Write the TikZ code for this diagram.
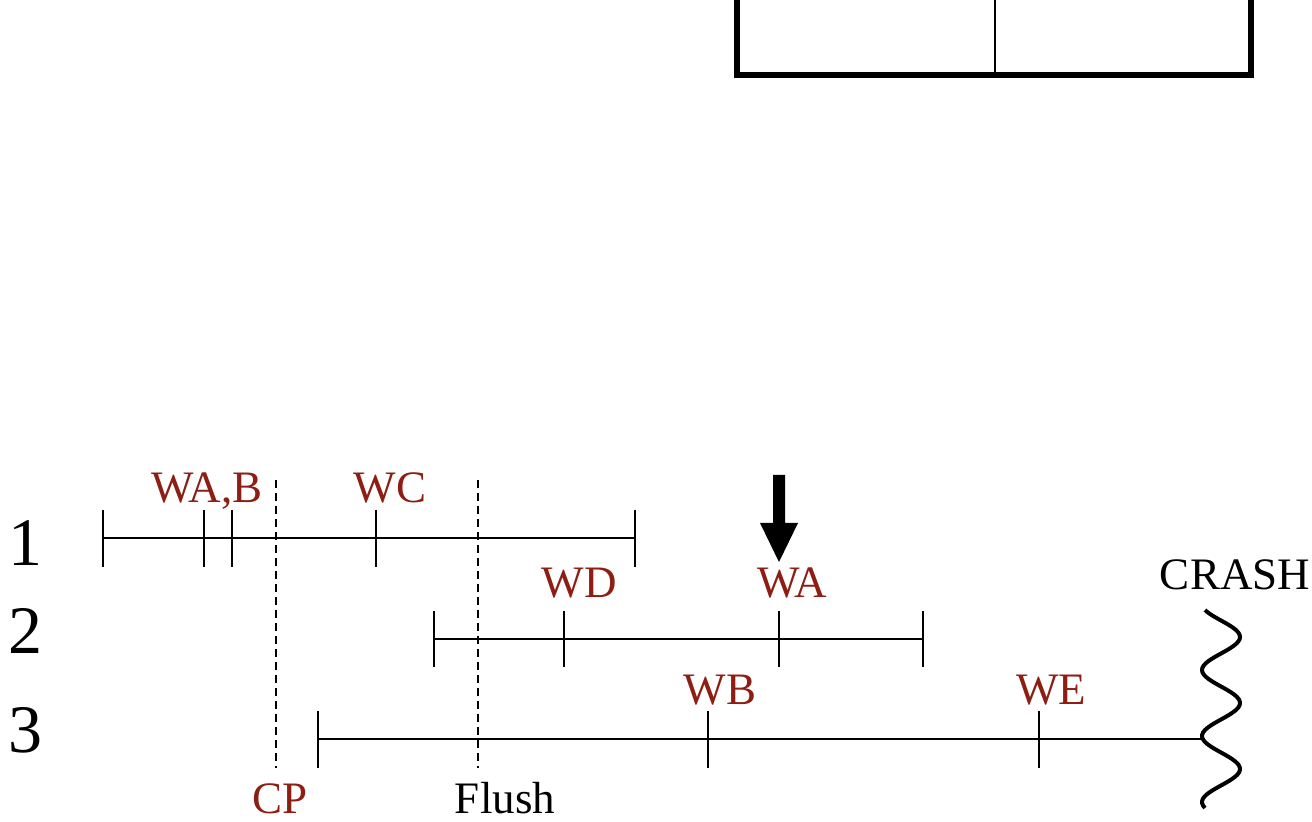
\documentclass[tikz,border=0pt]{standalone}
\usepackage{fontspec}
\setmainfont{Liberation Serif}
\definecolor{wred}{RGB}{140,30,20}
\tikzset{
  tline/.style={line width=1pt},
  cutline/.style={line width=1pt,dash pattern=on 4pt off 2.5pt},
  wlabel/.style={text=wred,font=\fontsize{22.5}{22.5}\selectfont,anchor=base,inner sep=0pt},
  blabel/.style={font=\fontsize{22.5}{22.5}\selectfont,anchor=base,inner sep=0pt},
  rownum/.style={font=\fontsize{34}{34}\selectfont,anchor=base,inner sep=0pt},
}
\begin{document}
\begin{tikzpicture}[x=0.5pt,y=-0.5pt]
\useasboundingbox (0,0) rectangle (1312,822);

% box
\draw[line width=3pt,line join=miter] (737,0) -- (737,75) -- (1251,75) -- (1251,0);
\draw[line width=1pt] (995,0) -- (995,75);

% rows
\node[rownum] (r1) at (26,566) {1};
\node[rownum] (r2) at (26,654) {2};
\node[rownum] (r3) at (26,753) {3};

% timeline 1
\coordinate (l1s) at (103,538);
\coordinate (l1e) at (635,538);
\draw[tline] (l1s) -- (l1e);
\foreach \x in {103,204,232,376,635}
  \draw[tline] (\x,510) -- (\x,567);
\node[wlabel] (wab) at (207,503) {WA,B};
\node[wlabel] (wc) at (390,503) {WC};

% timeline 2
\coordinate (l2s) at (434,639);
\coordinate (l2e) at (923,639);
\draw[tline] (l2s) -- (l2e);
\foreach \x in {434,564,779,923}
  \draw[tline] (\x,611) -- (\x,667);
\node[wlabel] (wd) at (579,598) {WD};
\node[wlabel] (wa) at (792,598) {WA};

% timeline 3
\coordinate (l3s) at (318,739);
\coordinate (l3e) at (1203,739);
\draw[tline] (l3s) -- (l3e);
\foreach \x in {318,708,1039}
  \draw[tline] (\x,711) -- (\x,768);
\node[wlabel] (wb) at (720,705) {WB};
\node[wlabel] (we) at (1051,705) {WE};

% checkpoint and flush
\coordinate (cpt) at (276,480);
\coordinate (cpb) at (276,768);
\coordinate (flt) at (478,480);
\coordinate (flb) at (478,768);
\draw[cutline] (cpt) -- (cpb);
\draw[cutline] (flt) -- (flb);
\node[wlabel] (cp) at (280,813) {CP};
\node[blabel] (flush) at (505,813) {Flush};

% crash
\draw[line width=2pt,domain=610:808,samples=90,smooth,variable=\t]
  plot ({1221-19*cos(5.4545*(\t-604))},\t);
\node[blabel] (crash) at (1235,590) {CRASH};

% arrow
\fill (773,475) -- (785,475) -- (785,523) -- (798,523) -- (779,562)
  -- (760,523) -- (773,523) -- cycle;
\end{tikzpicture}
\end{document}
